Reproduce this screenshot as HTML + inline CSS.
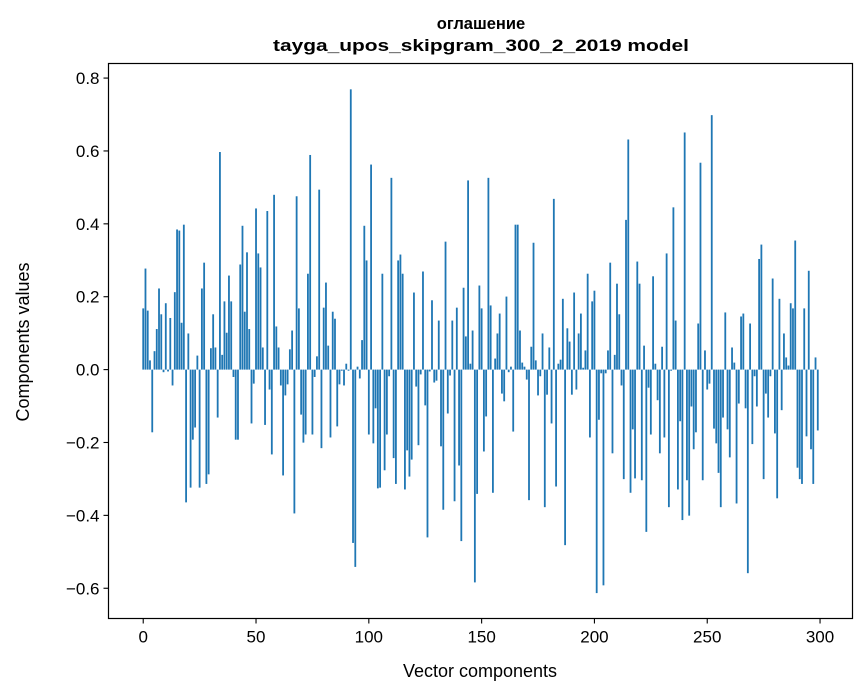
<!DOCTYPE html>
<html><head><meta charset="utf-8">
<style>
html,body{margin:0;padding:0;background:#fff;}
svg{display:block;font-family:"Liberation Sans","DejaVu Sans",sans-serif;}
</style></head>
<body>
<svg id="chart" width="867" height="696" viewBox="0 0 867 696" xmlns="http://www.w3.org/2000/svg">
  <rect x="0" y="0" width="867" height="696" fill="#fff"/>
  <text x="481" y="29" text-anchor="middle" font-size="16.5" font-weight="bold">оглашение</text>
  <text x="481" y="51" text-anchor="middle" font-size="16.5" font-weight="bold" textLength="416" lengthAdjust="spacingAndGlyphs">tayga_upos_skipgram_300_2_2019 model</text>
  <g id="bars"></g>
  <g id="xticks"></g>
  <g id="yticks"></g>
  <rect x="108.5" y="63.5" width="744" height="555" fill="none" stroke="#000" stroke-width="1.2"/>
  <text x="480" y="677" text-anchor="middle" font-size="18">Vector components</text>
  <text x="0" y="0" transform="translate(29,342) rotate(-90)" text-anchor="middle" font-size="18">Components values</text>
</svg>
<script>
const values = [
0.166,0.274,0.16,0.025,-0.17,0.05,0.11,0.22,0.15,-0.007,
0.18,-0.005,0.14,-0.043,0.21,0.38,0.377,0.127,0.393,-0.36,
0.098,-0.32,-0.19,-0.157,0.038,-0.32,0.22,0.29,-0.31,-0.284,
0.058,0.15,0.06,-0.13,0.59,0.04,0.185,0.1,0.255,0.185,
-0.02,-0.19,-0.19,0.285,0.39,0.157,0.318,0.11,-0.146,-0.038,
0.437,0.315,0.277,0.06,-0.15,0.43,-0.054,-0.23,0.474,0.117,
0.06,-0.043,-0.287,-0.07,-0.04,0.055,0.106,-0.39,0.47,0.166,
-0.122,-0.198,-0.176,0.26,0.582,-0.176,-0.02,0.036,0.488,-0.213,
0.168,0.236,0.065,-0.184,0.157,0.138,-0.154,-0.04,-0.003,-0.043,
0.016,-0.003,0.76,-0.47,-0.535,0.008,-0.024,0.08,0.39,0.296,
-0.176,0.556,-0.2,-0.105,-0.322,-0.32,0.26,-0.273,-0.176,-0.018,
0.52,-0.24,-0.31,0.296,0.312,0.26,-0.325,-0.219,-0.29,-0.244,
0.209,-0.046,-0.205,-0.013,0.266,-0.097,-0.455,-0.005,0.188,-0.035,
-0.03,0.133,-0.208,-0.38,0.347,-0.119,-0.016,0.133,-0.357,0.168,
-0.26,-0.465,0.222,0.09,0.513,0.016,0.106,-0.577,-0.337,0.228,
0.166,-0.222,-0.127,0.52,0.174,-0.334,0.03,0.098,0.152,-0.065,
-0.086,0.198,-0.007,0.008,-0.168,0.393,0.393,0.106,0.019,0.008,
-0.027,-0.354,0.062,0.344,0.025,-0.07,-0.018,0.098,-0.373,-0.068,
0.06,-0.146,0.463,-0.317,0.016,0.027,0.192,-0.476,0.112,0.076,
-0.068,0.209,-0.054,0.098,0.152,0.005,0.052,0.26,-0.184,0.185,
0.214,-0.606,-0.136,-0.01,-0.585,-0.01,0.052,0.29,-0.227,0.04,
0.233,0.15,-0.043,-0.297,0.406,0.624,-0.334,-0.162,-0.295,0.293,
0.233,-0.3,0.065,-0.44,-0.049,-0.176,0.253,0.016,-0.083,-0.227,
0.062,-0.184,0.315,-0.373,-0.003,0.44,0.133,-0.325,-0.14,-0.408,
0.643,-0.3,-0.396,-0.1,-0.216,-0.17,0.125,0.561,-0.3,0.052,
-0.054,-0.038,0.69,-0.16,-0.2,-0.28,-0.373,-0.13,0.155,-0.162,
-0.238,0.06,0.019,-0.363,-0.092,0.144,0.152,-0.105,-0.552,0.125,
-0.202,-0.018,-0.1,0.3,0.339,-0.297,-0.065,-0.13,-0.018,0.247,
-0.173,-0.349,0.192,-0.11,0.098,0.033,0.011,0.18,0.166,0.35,
-0.266,-0.297,-0.31,0.166,-0.181,0.268,-0.216,-0.31,0.033,-0.165
];
const xTickValues = [0,50,100,150,200,250,300];
const yTickValues = [-0.6,-0.4,-0.2,0.0,0.2,0.4,0.6,0.8];
const yTickLabels = ["\u22120.6","\u22120.4","\u22120.2","0.0","0.2","0.4","0.6","0.8"];

const NS = "http://www.w3.org/2000/svg";
const L = 108.5, R = 852.5, T = 63.5, B = 618.5;
const n = values.length;
const xmin0 = -0.4, xmax0 = n - 1 + 0.4, xm = (xmax0 - xmin0) * 0.05;
const xmin = xmin0 - xm, xmax = xmax0 + xm;
const ymin = -0.683, ymax = 0.840;
const barScale = 1.012;
function xs(v){ return L + (v - xmin) / (xmax - xmin) * (R - L); }
function ys(v){ return B - (v - ymin) / (ymax - ymin) * (B - T); }

const gb = document.getElementById('bars');
values.forEach((v0, i) => {
  const v = v0 * barScale;
  const r = document.createElementNS(NS, 'rect');
  const x0 = xs(i - 0.4), x1 = xs(i + 0.4);
  const y0 = ys(Math.max(v, 0)), y1 = ys(Math.min(v, 0));
  r.setAttribute('x', x0);
  r.setAttribute('width', x1 - x0);
  r.setAttribute('y', y0);
  r.setAttribute('height', Math.max(y1 - y0, 0.3));
  r.setAttribute('fill', '#1f77b4');
  
  
  gb.appendChild(r);
});

const gx = document.getElementById('xticks');
xTickValues.forEach(t => {
  const x = xs(t);
  const l = document.createElementNS(NS, 'line');
  l.setAttribute('x1', x); l.setAttribute('x2', x);
  l.setAttribute('y1', B); l.setAttribute('y2', B + 5);
  l.setAttribute('stroke', '#000'); l.setAttribute('stroke-width', '1.1');
  
  
  gx.appendChild(l);
  const tx = document.createElementNS(NS, 'text');
  tx.setAttribute('x', x); tx.setAttribute('y', B + 24);
  tx.setAttribute('text-anchor', 'middle'); tx.setAttribute('font-size', '17');
  tx.textContent = String(t);
  
  
  gx.appendChild(tx);
});

const gy = document.getElementById('yticks');
yTickValues.forEach((t, k) => {
  const y = ys(t);
  const l = document.createElementNS(NS, 'line');
  l.setAttribute('x1', L - 5); l.setAttribute('x2', L);
  l.setAttribute('y1', y); l.setAttribute('y2', y);
  l.setAttribute('stroke', '#000'); l.setAttribute('stroke-width', '1.1');
  
  
  gy.appendChild(l);
  const tx = document.createElementNS(NS, 'text');
  tx.setAttribute('x', L - 9); tx.setAttribute('y', y + 6);
  tx.setAttribute('text-anchor', 'end'); tx.setAttribute('font-size', '17');
  tx.textContent = yTickLabels[k];
  
  
  gy.appendChild(tx);
});
</script>
</body></html>
